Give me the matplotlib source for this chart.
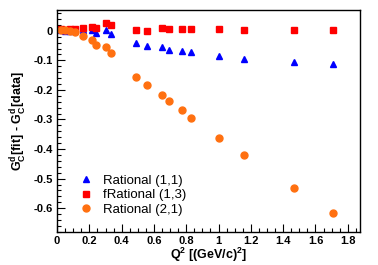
import matplotlib
matplotlib.use('Agg')
import matplotlib.pyplot as plt
from matplotlib.ticker import MultipleLocator

# Q^2 values (GeV/c)^2
q2 = [0.025, 0.05, 0.08, 0.11, 0.16, 0.215, 0.24, 0.30, 0.335, 0.49,
      0.555, 0.65, 0.69, 0.775, 0.83, 1.0, 1.16, 1.47, 1.71]
# residuals G_C^d[fit] - G_C^d[data]
rational_11 = [0.003, 0.0, 0.0, 0.001, 0.001, 0.001, -0.008, 0.001, -0.011, -0.042,
               -0.053, -0.054, -0.064, -0.068, -0.073, -0.085, -0.095, -0.105, -0.114]
frational_13 = [0.006, 0.004, 0.005, 0.006, 0.011, 0.014, 0.009, 0.026, 0.018, 0.004,
                0.0, 0.010, 0.005, 0.006, 0.005, 0.005, 0.003, 0.003, 0.001]
rational_21 = [0.004, 0.002, 0.0, -0.005, -0.017, -0.031, -0.047, -0.054, -0.075, -0.158,
               -0.185, -0.217, -0.238, -0.268, -0.294, -0.362, -0.419, -0.531, -0.617]
labels = ['Rational (1,1)', 'fRational (1,3)', 'Rational (2,1)']

plt.rcParams['font.family'] = 'Liberation Sans'
plt.rcParams['mathtext.fontset'] = 'custom'
plt.rcParams['mathtext.rm'] = 'Liberation Sans:bold'
plt.rcParams['mathtext.it'] = 'Liberation Sans:bold'
plt.rcParams['mathtext.bf'] = 'Liberation Sans:bold'
plt.rcParams['mathtext.default'] = 'rm'

fig = plt.figure(figsize=(3.78, 2.65), dpi=100)
ax = fig.add_axes([0.151, 0.125, 0.801, 0.837])

ax.plot(q2, rational_11, '^', color='#0000ff', ms=5, label=labels[0])
ax.plot(q2, frational_13, 's', color='#ff0000', ms=4.3, label=labels[1])
ax.plot(q2, rational_21, 'o', color='#ff7010', ms=5, label=labels[2])

ax.set_xlim(0, 1.875)
ax.set_ylim(-0.68, 0.07)
ax.xaxis.set_major_locator(MultipleLocator(0.2))
ax.xaxis.set_minor_locator(MultipleLocator(0.05))
ax.yaxis.set_major_locator(MultipleLocator(0.1))
ax.yaxis.set_minor_locator(MultipleLocator(0.02))
ax.tick_params(which='both', direction='in', top=False, right=False, width=0.8)
ax.tick_params(which='major', length=6, labelsize=8, pad=3)
ax.tick_params(which='minor', length=3)
for t in ax.get_xticklabels() + ax.get_yticklabels():
    t.set_fontweight('bold')
ax.xaxis.set_major_formatter(plt.FuncFormatter(lambda v, p: '0' if abs(v) < 1e-9 else ('%g' % v)))
ax.yaxis.set_major_formatter(plt.FuncFormatter(lambda v, p: '0' if abs(v) < 1e-9 else ('%g' % v)))
for s in ax.spines.values():
    s.set_linewidth(1)

ax.set_xlabel(r'Q$^2$ [(GeV/c)$^2$]', fontsize=9, fontweight='bold', labelpad=0)
ax.set_ylabel(r'G$^d_C$[fit] - G$^d_C$[data]', fontsize=9, fontweight='bold', labelpad=3)

ax.legend(loc='lower left', bbox_to_anchor=(0.035, 0.05), frameon=False, fontsize=9.5,
          handletextpad=0.3, labelspacing=0.15, borderaxespad=0)

fig.savefig('out.png', dpi=100)
